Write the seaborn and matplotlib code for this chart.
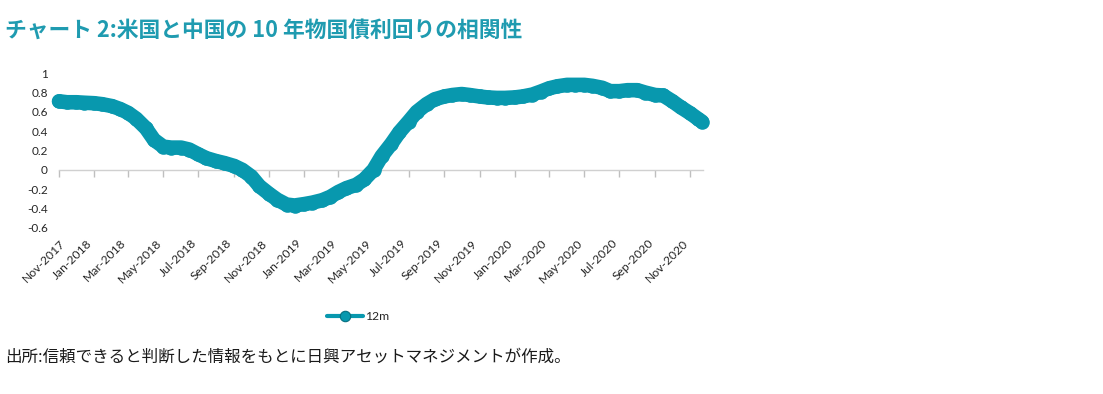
import matplotlib
matplotlib.use("Agg")
import matplotlib.pyplot as plt
import matplotlib.dates as mdates
from matplotlib.lines import Line2D
import pandas as pd
import seaborn as sns

# ---- data ----
title = "チャート 2:米国と中国の 10 年物国債利回りの相関性"
source = "出所:信頼できると判断した情報をもとに日興アセットマネジメントが作成。"
series_name = "12m"
dates = list(pd.date_range("2017-11-01", "2020-11-15", freq="SMS")) + [pd.Timestamp("2020-11-21")]
values = [
    0.71, 0.70,   0.70, 0.695,  0.69, 0.68,   0.66, 0.63,   0.59, 0.53,
    0.43, 0.31,   0.24, 0.23,   0.23, 0.21,   0.16, 0.12,   0.09, 0.07,
    0.04, 0.00,   -0.07, -0.17, -0.25, -0.31, -0.36, -0.37, -0.355, -0.34,
    -0.315, -0.28, -0.23, -0.19, -0.155, -0.10, 0.00, 0.14,  0.27, 0.39,
    0.50, 0.60,   0.68, 0.73,   0.76, 0.775,  0.785, 0.775, 0.76, 0.75,
    0.745, 0.745, 0.75, 0.76,   0.78, 0.81,   0.845, 0.865, 0.88, 0.88,
    0.88, 0.87,   0.85, 0.815,  0.815, 0.825, 0.825, 0.80,  0.775, 0.77,
    0.71, 0.65,   0.585, 0.525, 0.50,
]
y_ticks = [-0.6, -0.4, -0.2, 0, 0.2, 0.4, 0.6, 0.8, 1.0]
y_tick_labels = ["-0.6", "-0.4", "-0.2", "0", "0.2", "0.4", "0.6", "0.8", "1"]
x_start, x_end = "2017-11-01", "2020-11-23"

LINE = "#0898ae"
TITLE_C = "#1f9bb0"
TEXT_C = "#262626"

sns.set_theme(style="white")
plt.rcParams["font.family"] = ["Lato", "Noto Sans CJK JP", "DejaVu Sans"]

fig = plt.figure(figsize=(11.03, 3.94), dpi=100)
W, H = 1103, 394
ax = fig.add_axes([59 / W, 1 - 227.7 / H, 644 / W, 154.4 / H])

df = pd.DataFrame({"date": mdates.date2num(dates), "corr": values})
sns.lineplot(data=df, x="date", y="corr", ax=ax, color=LINE, lw=10.5,
             marker="o", ms=10.5, mec=LINE, mew=0, legend=False,
             solid_capstyle="round", solid_joinstyle="round", clip_on=False, zorder=3)

ax.set_xlim(mdates.date2num(pd.Timestamp(x_start)), mdates.date2num(pd.Timestamp(x_end)))
ax.set_ylim(-0.6, 1.0)
ax.set_xlabel("")
ax.set_ylabel("")
ax.set_yticks(y_ticks, labels=y_tick_labels)
ax.tick_params(axis="y", length=0, pad=8, labelsize=8.5, labelcolor=TEXT_C)

for s in ["left", "top", "right"]:
    ax.spines[s].set_visible(False)
ax.spines["bottom"].set_position(("data", 0))
ax.spines["bottom"].set_color("#d0d0d0")
ax.spines["bottom"].set_linewidth(1)

loc = mdates.MonthLocator(bymonth=[1, 3, 5, 7, 9, 11])
fmt = mdates.DateFormatter("%b-%Y")
ax.xaxis.set_major_locator(loc)
ax.xaxis.set_major_formatter(fmt)
ax.tick_params(axis="x", direction="out", length=5, width=1, color="#bfbfbf",
               labelbottom=False, bottom=True)

sec = ax.secondary_xaxis("bottom")
sec.xaxis.set_major_locator(mdates.MonthLocator(bymonth=[1, 3, 5, 7, 9, 11]))
sec.xaxis.set_major_formatter(mdates.DateFormatter("%b-%Y"))
sec.spines["bottom"].set_visible(False)
sec.tick_params(axis="x", length=0, pad=7, labelsize=8.7, labelcolor=TEXT_C)
for lab in sec.get_xticklabels():
    lab.set_rotation(45)
    lab.set_ha("right")
    lab.set_rotation_mode("anchor")

handle = Line2D([], [], color=LINE, lw=3, marker="o", ms=7.5, mec="#056f80", mew=0.8)
fig.legend(handles=[handle], labels=[series_name], loc="center",
           bbox_to_anchor=(358 / W, 1 - 317 / H), frameon=False, fontsize=8.7,
           handlelength=3.0, handletextpad=0.2, labelcolor=TEXT_C)

fig.text(5 / W, 1 - 30 / H, title, fontsize=15.7, fontweight="bold", color=TITLE_C,
         va="center", ha="left", family=["Noto Sans CJK JP", "DejaVu Sans"])
fig.text(5 / W, 1 - 357 / H, source, fontsize=11.9, color="#1a1a1a",
         va="center", ha="left", family=["Noto Sans CJK JP", "DejaVu Sans"])

fig.savefig("out.png", dpi=100)
